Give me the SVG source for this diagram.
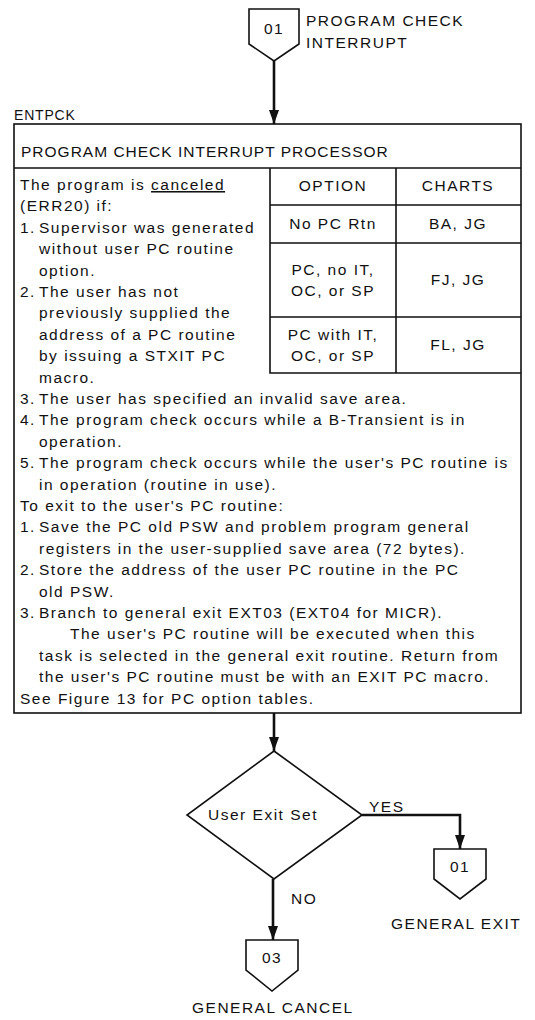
<svg xmlns="http://www.w3.org/2000/svg" width="535" height="1020" viewBox="0 0 535 1020">
<style>
text{font-family:"Liberation Sans",Arial,sans-serif;fill:#111;}
.t{font-size:15.5px;letter-spacing:1.5px;}
.c{text-anchor:middle;}
.lbl{font-size:15.5px;letter-spacing:1.5px;}
.shape{fill:#fff;stroke:#111;stroke-width:1.6;}
.conn{fill:none;stroke:#111;stroke-width:2.6;}
.grid{fill:none;stroke:#111;stroke-width:1.6;}
</style>
<defs>
<marker id="ah" viewBox="0 0 14 10" refX="14" refY="5" markerWidth="14" markerHeight="10" markerUnits="userSpaceOnUse" orient="auto">
<path d="M0,0 L14,5 L0,10 Z" fill="#111"/>
</marker>
</defs>
<rect width="535" height="1020" fill="#fff"/>

<g id="connectors">
<path class="conn" d="M274,61 V124" marker-end="url(#ah)"/>
<path class="conn" d="M274,713 V751" marker-end="url(#ah)"/>
<path class="conn" d="M362,815 H460 V849" marker-end="url(#ah)"/>
<path class="conn" d="M273,879 V940" marker-end="url(#ah)"/>
</g>

<g id="start">
<path class="shape" d="M249,9 H299 V44 L274,61 L249,44 Z"/>
<text class="t c" x="274" y="34">01</text>
<text class="lbl" x="306" y="26">PROGRAM CHECK</text>
<text class="lbl" x="306" y="48">INTERRUPT</text>
</g>

<g id="process">
<text class="t" x="14" y="120" style="font-size:14px;letter-spacing:0.8px">ENTPCK</text>
<rect class="shape" x="14" y="124" width="507" height="589"/>
<line class="grid" x1="14" y1="168" x2="521" y2="168"/>
<text class="t" x="21" y="157" style="letter-spacing:1px">PROGRAM CHECK INTERRUPT PROCESSOR</text>
<path class="grid" d="M270,168 V373 H521 M396,168 V373 M270,205 H521 M270,243 H521 M270,317 H521"/>
<text class="t c" x="333" y="191">OPTION</text>
<text class="t c" x="458" y="191">CHARTS</text>
<text class="t c" x="333" y="229">No PC Rtn</text>
<text class="t c" x="458" y="229">BA, JG</text>
<text class="t c" x="333" y="275">PC, no IT,</text>
<text class="t c" x="333" y="296">OC, or SP</text>
<text class="t c" x="458" y="285">FJ, JG</text>
<text class="t c" x="333" y="340">PC with IT,</text>
<text class="t c" x="333" y="361">OC, or SP</text>
<text class="t c" x="458" y="350">FL, JG</text>

<text class="t" x="20" y="190">The program is <tspan text-decoration="underline">canceled</tspan></text>
<text class="t" x="20" y="211.4">(ERR20) if:</text>
<text class="t" x="20" y="232.8">1.</text><text class="t" x="39" y="232.8">Supervisor was generated</text>
<text class="t" x="39" y="254.2">without user PC routine</text>
<text class="t" x="39" y="275.6">option.</text>
<text class="t" x="20" y="297">2.</text><text class="t" x="39" y="297">The user has not</text>
<text class="t" x="39" y="318.4">previously supplied the</text>
<text class="t" x="39" y="339.8">address of a PC routine</text>
<text class="t" x="39" y="361.2">by issuing a STXIT PC</text>
<text class="t" x="39" y="382.6">macro.</text>
<text class="t" x="20" y="404">3.</text><text class="t" x="39" y="404">The user has specified an invalid save area.</text>
<text class="t" x="20" y="425.4">4.</text><text class="t" x="39" y="425.4">The program check occurs while a B-Transient is in</text>
<text class="t" x="39" y="446.8">operation.</text>
<text class="t" x="20" y="468.2">5.</text><text class="t" x="39" y="468.2">The program check occurs while the user's PC routine is</text>
<text class="t" x="39" y="489.6">in operation (routine in use).</text>
<text class="t" x="20" y="511">To exit to the user's PC routine:</text>
<text class="t" x="20" y="532.4">1.</text><text class="t" x="39" y="532.4">Save the PC old PSW and problem program general</text>
<text class="t" x="39" y="553.8">registers in the user-supplied save area (72 bytes).</text>
<text class="t" x="20" y="575.2">2.</text><text class="t" x="39" y="575.2">Store the address of the user PC routine in the PC</text>
<text class="t" x="39" y="596.6">old PSW.</text>
<text class="t" x="20" y="618">3.</text><text class="t" x="39" y="618">Branch to general exit EXT03 (EXT04 for MICR).</text>
<text class="t" x="70" y="639.4">The user's PC routine will be executed when this</text>
<text class="t" x="39" y="660.8">task is selected in the general exit routine. Return from</text>
<text class="t" x="39" y="682.2">the user's PC routine must be with an EXIT PC macro.</text>
<text class="t" x="20" y="703.6">See Figure 13 for PC option tables.</text>
</g>

<g id="decision">
<path class="shape" d="M274,751 L362,815 L274,879 L187,815 Z"/>
<text class="t c" x="263" y="820">User Exit Set</text>
<text class="lbl" x="369" y="812">YES</text>
<text class="lbl" x="291" y="904">NO</text>
</g>

<g id="exit">
<path class="shape" d="M434,849 H486 V879 L460,899 L434,879 Z"/>
<text class="t c" x="460" y="872">01</text>
<text class="lbl" x="391" y="929">GENERAL EXIT</text>
</g>

<g id="cancel">
<path class="shape" d="M246,940 H298 V970 L272,991 L246,970 Z"/>
<text class="t c" x="272" y="963">03</text>
<text class="lbl" x="192" y="1013">GENERAL CANCEL</text>
</g>
</svg>
